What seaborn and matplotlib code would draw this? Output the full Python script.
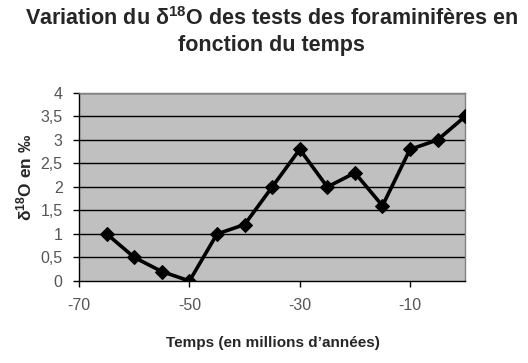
import numpy as np
import pandas as pd
import matplotlib
matplotlib.use("Agg")
import matplotlib.pyplot as plt
import seaborn as sns

# données
temps = [-65, -60, -55, -50, -45, -40, -35, -30, -25, -20, -15, -10, -5, 0]
delta18o = [1.0, 0.5, 0.2, 0.0, 1.0, 1.2, 2.0, 2.8, 2.0, 2.3, 1.6, 2.8, 3.0, 3.5]
x_ticks = [-70, -50, -30, -10]
y_ticks = [0, 0.5, 1, 1.5, 2, 2.5, 3, 3.5, 4]

df = pd.DataFrame({"temps": temps, "d18o": delta18o})

sns.set_style("white")
plt.rcParams["font.family"] = ["Liberation Sans", "DejaVu Sans"]
plt.rcParams["mathtext.fontset"] = "custom"
plt.rcParams["mathtext.rm"] = "Liberation Sans:bold"
plt.rcParams["mathtext.it"] = "Liberation Sans:bold"
plt.rcParams["mathtext.bf"] = "Liberation Sans:bold"

fig, ax = plt.subplots(figsize=(5.28, 3.63), dpi=100)
fig.subplots_adjust(left=0.150, right=0.881, top=0.744, bottom=0.226)

ax.set_facecolor("#c0c0c0")
for y in y_ticks[1:]:
    ax.axhline(y, color="black", lw=1, zorder=1)

sns.lineplot(data=df, x="temps", y="d18o", ax=ax, color="black", lw=2.6,
             marker="D", markersize=7.5, markeredgecolor="black", zorder=3)

ax.set_xlim(-70, 0)
ax.set_ylim(0, 4)
ax.set_xticks(x_ticks)
ax.set_yticks(y_ticks)
ax.set_xticklabels([str(v) for v in x_ticks])
ax.set_yticklabels([f"{v:g}".replace(".", ",") for v in y_ticks])
ax.tick_params(axis="both", labelsize=11.5, colors="black", length=4, width=1,
               direction="out", bottom=True, left=True)
ax.tick_params(axis="x", pad=8)
ax.tick_params(axis="y", pad=8)
for lbl in ax.get_xticklabels() + ax.get_yticklabels():
    lbl.set_color("#555555")

for side in ["left", "bottom"]:
    ax.spines[side].set_color("black")
    ax.spines[side].set_linewidth(1)
for side in ["top", "right"]:
    ax.spines[side].set_color("#808080")
    ax.spines[side].set_linewidth(1)

ax.set_xlabel("")
ax.set_ylabel("")
fig.text(0.046, 0.51, "δ$^{18}$O en ‰", rotation=90, ha="center", va="center",
         fontsize=12.5, fontweight="bold")

fig.text(0.515, 0.912, "Variation du δ$^{18}$O des tests des foraminifères en\nfonction du temps",
         ha="center", va="center", fontsize=15.5, fontweight="bold", linespacing=1.3)
fig.text(0.516, 0.055, "Temps (en millions d’années)", ha="center", va="center",
         fontsize=11, fontweight="bold")

fig.savefig("out.png", dpi=100)
